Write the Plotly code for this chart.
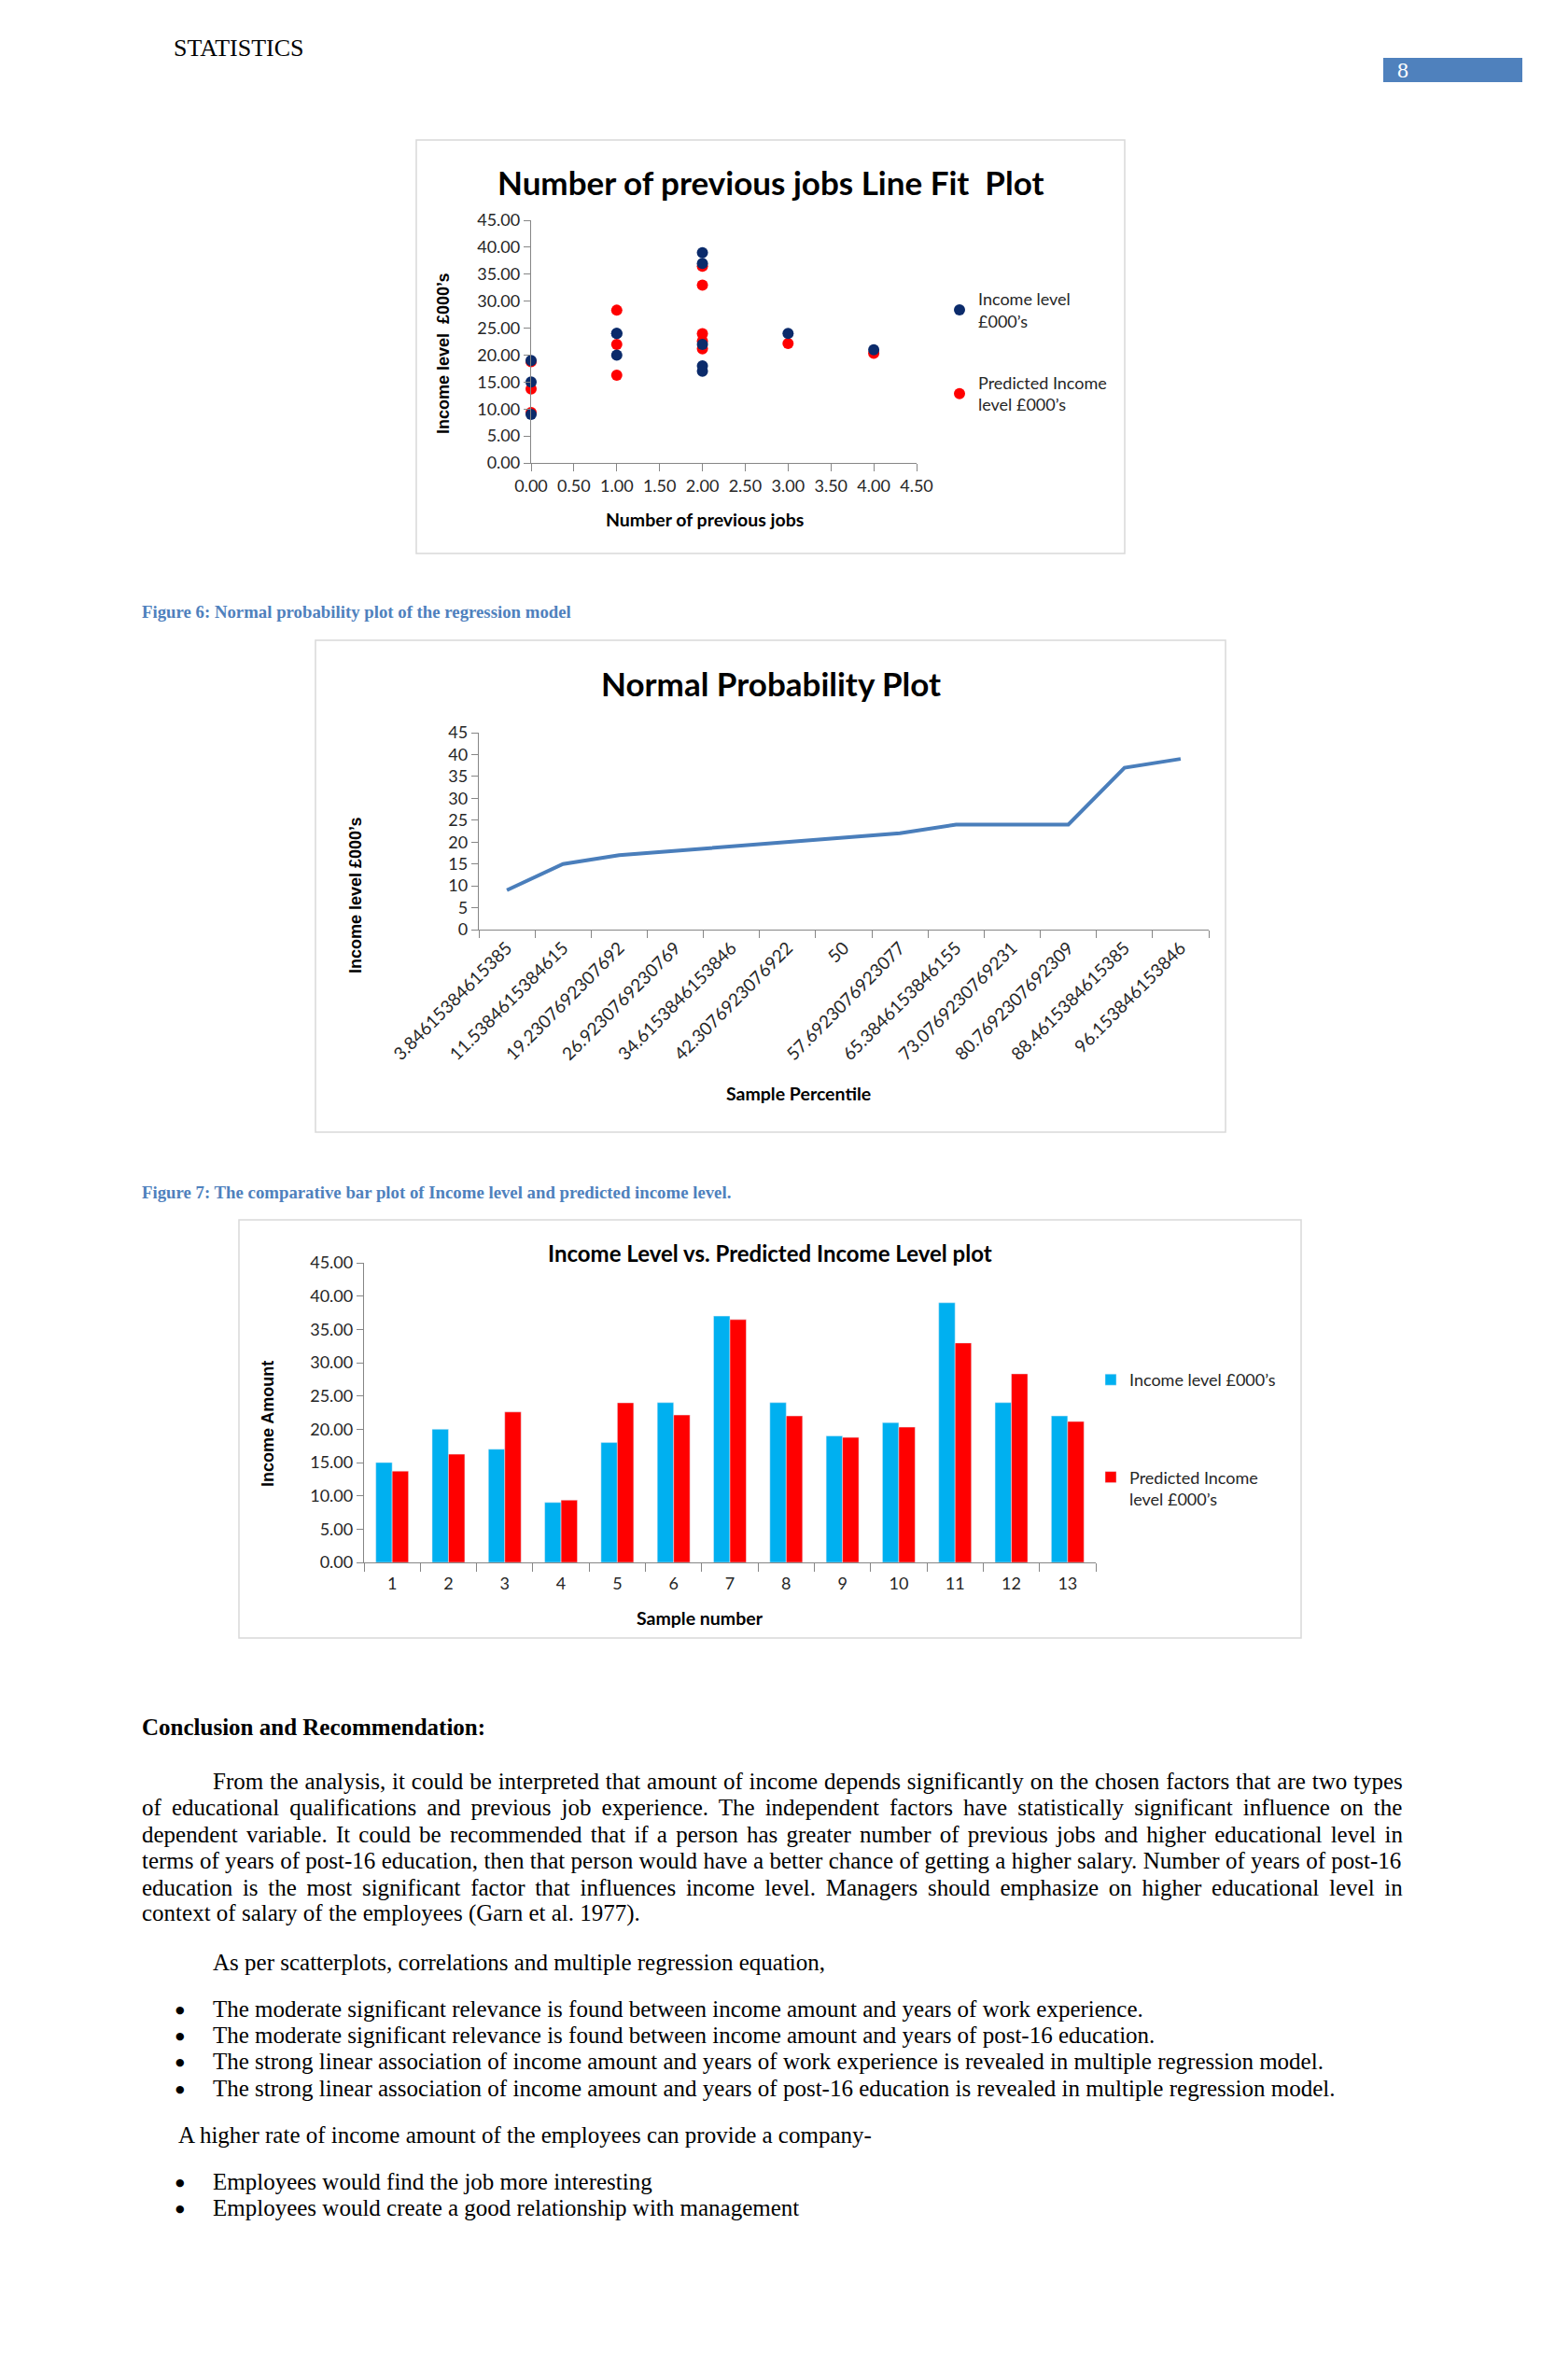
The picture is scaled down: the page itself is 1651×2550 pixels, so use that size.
import plotly.graph_objects as go

# ---------------- data ----------------
sample_numbers = [str(i) for i in range(1, 14)]
income = [15, 20, 17, 9, 18, 24, 37, 24, 19, 21, 39, 24, 22]
predicted = [13.72, 16.25, 22.6, 9.36, 23.97, 22.14, 36.47, 22.0, 18.77, 20.32, 32.96, 28.32, 21.16]
previous_jobs = [0, 1, 2, 0, 2, 3, 2, 1, 0, 4, 2, 1, 2]

pct_labels = ["3.84615384615385", "11.5384615384615", "19.2307692307692", "26.9230769230769",
              "34.6153846153846", "42.3076923076922", "50", "57.6923076923077",
              "65.3846153846155", "73.0769230769231", "80.7692307692309", "88.4615384615385",
              "96.153846153846"]
sorted_income = [9, 15, 17, 18, 19, 20, 21, 22, 24, 24, 24, 37, 39]

paragraph_lines = [
    "From the analysis, it could be interpreted that amount of income depends significantly on the chosen factors that are two types",
    "of educational qualifications and previous job experience. The independent factors have statistically significant influence on the",
    "dependent variable. It could be recommended that if a person has greater number of previous jobs and higher educational level in",
    "terms of years of post-16 education, then that person would have a better chance of getting a higher salary. Number of years of post-16",
    "education is the most significant factor that influences income level. Managers should emphasize on higher educational level in",
    "context of salary of the employees (Garn et al. 1977).",
]
bullets_1 = [
    "The moderate significant relevance is found between income amount and years of work experience.",
    "The moderate significant relevance is found between income amount and years of post-16 education.",
    "The strong linear association of income amount and years of work experience is revealed in multiple regression model.",
    "The strong linear association of income amount and years of post-16 education is revealed in multiple regression model.",
]
bullets_2 = [
    "Employees would find the job more interesting",
    "Employees would create a good relationship with management",
]

# ---------------- page geometry helpers ----------------
OFF = 8
FW, FH = 1635, 2534


def PX(x):
    return (x - OFF) / FW


def PY(y):
    return 1 - (y - OFF) / FH


# Times widths (per 1000 em) for justification
TW = {' ': 250, '!': 333, '"': 408, "'": 333, '(': 333, ')': 333, ',': 250, '-': 333, '.': 250,
      ':': 278, ';': 278, '?': 444}
for d in '0123456789':
    TW[d] = 500
TW.update(dict(zip('ABCDEFGHIJKLMNOPQRSTUVWXYZ',
                   [722, 667, 667, 722, 611, 556, 722, 722, 333, 389, 722, 611, 889, 722, 722, 556, 722, 667, 556,
                    611, 722, 722, 944, 722, 722, 611])))
TW.update(dict(zip('abcdefghijklmnopqrstuvwxyz',
                   [444, 500, 444, 500, 444, 333, 500, 500, 278, 278, 500, 278, 778, 500, 500, 500, 500, 333, 389,
                    278, 500, 500, 722, 500, 500, 444])))


def tw(s, size):
    return sum(TW.get(c, 500) for c in s) * size / 1000.0


SERIF = "Liberation Serif"
SANS = "Lato"
BODY = 25

fig = go.Figure()

NAVY = "#0B2B6B"
RED = "#FF0000"

# ---------------- chart 1 ----------------
fig.add_trace(go.Scatter(x=previous_jobs, y=predicted, mode="markers", name="Predicted Income<br>level £000’s",
                         marker=dict(color=RED, size=12), xaxis="x", yaxis="y", legend="legend",
                         legendgroup="p1", legendrank=2, cliponaxis=False))
fig.add_trace(go.Scatter(x=previous_jobs, y=income, mode="markers", name="Income level<br>£000’s",
                         marker=dict(color=NAVY, size=12), xaxis="x", yaxis="y", legend="legend",
                         legendgroup="i1", legendrank=1, cliponaxis=False))

# ---------------- chart 2 ----------------
fig.add_trace(go.Scatter(x=pct_labels, y=sorted_income, mode="lines", line=dict(color="#4A7EBB", width=4),
                         xaxis="x2", yaxis="y2", showlegend=False))

# ---------------- chart 3 ----------------
fig.add_trace(go.Bar(x=sample_numbers, y=income, name="Income level £000’s", marker_color="#00B0F0",
                     xaxis="x3", yaxis="y3", legend="legend2", legendgroup="i3", legendrank=1))
fig.add_trace(go.Bar(x=sample_numbers, y=predicted, name="Predicted Income<br>level £000’s", marker_color=RED,
                     xaxis="x3", yaxis="y3", legend="legend2", legendgroup="p3", legendrank=2))

AX = dict(showline=True, linecolor="#868686", linewidth=1.3, ticks="outside", tickcolor="#868686",
          tickwidth=1.3, showgrid=False, zeroline=False, fixedrange=True, automargin=False,
          tickfont=dict(family=SANS, size=18, color="#262626"))

fig.update_layout(
    width=FW, height=FH, autosize=False, margin=dict(l=0, r=0, t=0, b=0, pad=0, autoexpand=False),
    paper_bgcolor="white", plot_bgcolor="rgba(0,0,0,0)",
    barmode="group", bargap=0.42, bargroupgap=0, hovermode=False,
    xaxis=dict(AX, domain=[PX(569), PX(982)], range=[0, 4.5], tickmode="linear", tick0=0, dtick=0.5,
               tickformat=".2f", ticklen=8, anchor="y"),
    yaxis=dict(AX, domain=[PY(496), PY(236)], range=[0, 45], tickmode="linear", tick0=0, dtick=5,
               tickformat=".2f", ticklen=7, anchor="x"),
    xaxis2=dict(AX, domain=[PX(513), PX(1295)], type="category", categoryorder="array",
                categoryarray=pct_labels, range=[-0.5, 12.5], tickson="boundaries", ticklen=8,
                tickangle=-45, tickfont=dict(family=SANS, size=19, color="#262626"), anchor="y2"),
    yaxis2=dict(AX, domain=[PY(996), PY(785)], range=[0, 45], tickmode="linear", tick0=0, dtick=5,
                ticklen=7, anchor="x2"),
    xaxis3=dict(AX, domain=[PX(390), PX(1174)], type="category", categoryorder="array",
                categoryarray=sample_numbers, range=[-0.5, 12.5], tickson="boundaries", ticklen=9,
                ticklabelstandoff=6, anchor="y3"),
    yaxis3=dict(AX, domain=[PY(1674), PY(1353)], range=[0, 45], tickmode="linear", tick0=0, dtick=5,
                tickformat=".2f", ticklen=7, anchor="x3"),
    legend=dict(x=PX(1008), y=PY(302), xanchor="left", yanchor="top", bgcolor="rgba(0,0,0,0)",
                font=dict(family=SANS, size=18, color="#262626"), traceorder="grouped",
                tracegroupgap=40, valign="middle", itemclick=False, itemdoubleclick=False),
    legend2=dict(x=PX(1170), y=PY(1460), xanchor="left", yanchor="top", bgcolor="rgba(0,0,0,0)",
                 font=dict(family=SANS, size=18, color="#262626"), traceorder="grouped",
                 tracegroupgap=78, valign="top", itemclick=False, itemdoubleclick=False),
)

shapes = []
for (x0, x1, y0, y1) in [(446, 1205, 150, 593), (338, 1313, 686, 1213), (256, 1394, 1307, 1755)]:
    shapes.append(dict(type="rect", xref="paper", yref="paper", x0=PX(x0), x1=PX(x1), y0=PY(y1), y1=PY(y0),
                       line=dict(color="#D9D9D9", width=1.5), fillcolor="rgba(0,0,0,0)", layer="below"))
shapes.append(dict(type="rect", xref="paper", yref="paper", x0=PX(1482), x1=PX(1631), y0=PY(88), y1=PY(62),
                   line=dict(width=0), fillcolor="#4F81BD", layer="below"))

ann = []


def T(text, x, y, size, family=SERIF, color="black", xanchor="left", bold=False, angle=0):
    ann.append(dict(text=("<b>%s</b>" % text) if bold else text, x=PX(x), y=PY(y), xref="paper",
                    yref="paper", xanchor=xanchor, yanchor="middle", showarrow=False, textangle=angle,
                    font=dict(family=family, size=size, color=color)))


# header
T("STATISTICS", 184, 51, 26)
T("8", 1503, 75, 24, color="white", xanchor="center")

# chart titles / axis titles
T("Number of previous jobs Line Fit\u00a0 Plot", 825, 195, 35, family=SANS, xanchor="center", bold=True)
T("Number of previous jobs", 755, 556, 19.5, family=SANS, xanchor="center", bold=True)
T("Income level  £000’s", 475, 379, 18, family="Liberation Sans", xanchor="center", bold=True, angle=-90)

T("Normal Probability Plot", 826, 732, 35, family=SANS, xanchor="center", bold=True)
T("Sample Percentile", 855, 1171, 19.5, family=SANS, xanchor="center", bold=True)
T("Income level £000’s", 381, 960, 18, family="Liberation Sans", xanchor="center", bold=True, angle=-90)

T("Income Level vs. Predicted Income Level plot", 825, 1342, 24, family=SANS, xanchor="center", bold=True)
T("Sample number", 750, 1733, 19.5, family=SANS, xanchor="center", bold=True)
T("Income Amount", 287, 1526, 18, family="Liberation Sans", xanchor="center", bold=True, angle=-90)

# captions
T("Figure 6: Normal probability plot of the regression model", 150, 655, 18.8, color="#4F81BD", bold=True)
T("Figure 7: The comparative bar plot of Income level and predicted income level.", 150, 1277, 18.8,
  color="#4F81BD", bold=True)

# body
T("Conclusion and Recommendation:", 150, 1850, BODY, bold=True)
para_y = [1908, 1937, 1965, 1993, 2022, 2050]
RIGHT = 1501
for i, line in enumerate(paragraph_lines):
    x0 = 226 if i == 0 else 150
    if i < len(paragraph_lines) - 1:
        nsp = line.count(" ")
        ws = (RIGHT - x0 - tw(line, BODY)) / nsp
        txt = '<span style="word-spacing:%.2fpx">%s</span>' % (ws, line)
    else:
        txt = line
    T(txt, x0, para_y[i], BODY)

T("As per scatterplots, correlations and multiple regression equation,", 226, 2102, BODY)
for line, y in zip(bullets_1, [2152, 2180, 2208, 2237]):
    T("●", 193, y + 1, 11, family="DejaVu Sans", xanchor="center")
    T(line, 226, y, BODY)
T("A higher rate of income amount of the employees can provide a company-", 189, 2287, BODY)
for line, y in zip(bullets_2, [2337, 2365]):
    T("●", 193, y + 1, 11, family="DejaVu Sans", xanchor="center")
    T(line, 226, y, BODY)

fig.update_layout(shapes=shapes, annotations=ann)
fig.write_html("out.html")
